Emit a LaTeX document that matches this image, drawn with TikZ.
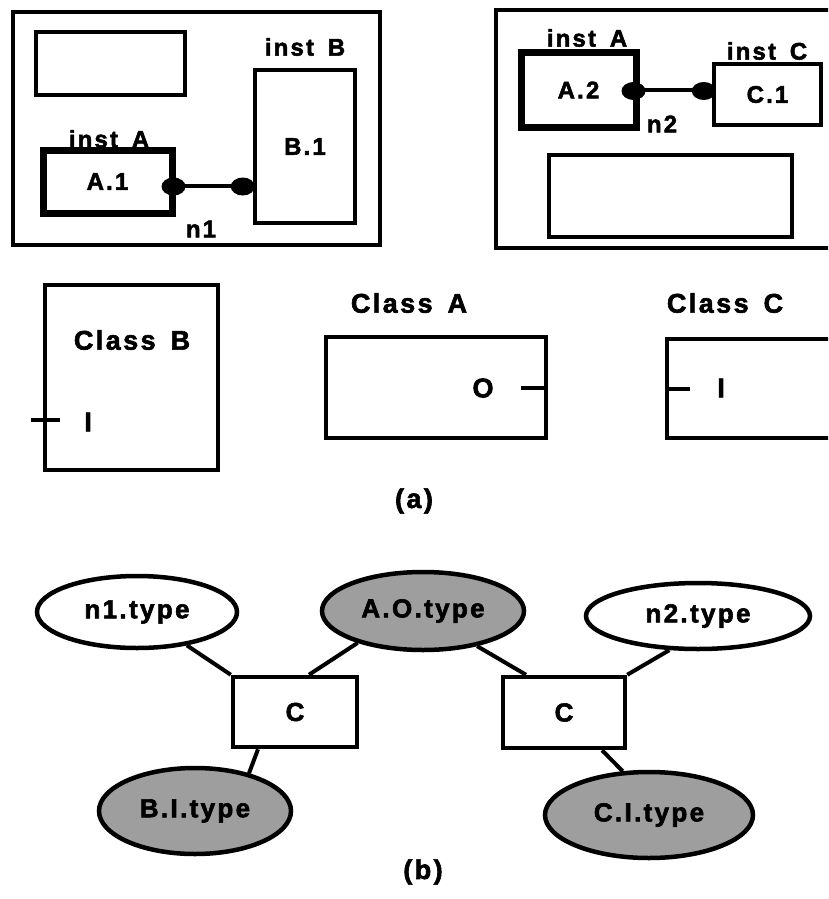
\documentclass[tikz,border=0pt]{standalone}
\usepackage{fontspec}
\setmainfont{Liberation Sans}[LetterSpace=9, BoldFeatures={FakeBold=2.2}]
\usetikzlibrary{shapes.geometric}
\begin{document}
\begin{tikzpicture}[x=1pt,y=-1pt,
  box/.style={draw, rectangle, line width=4.5pt, inner sep=0pt},
  thickbox/.style={box, line width=7pt},
  clsbox/.style={box, line width=4pt},
  lbl/.style={font=\bfseries\fontsize{24}{26}\selectfont, inner sep=0pt},
  clbl/.style={font=\bfseries\fontsize{27}{29}\selectfont, inner sep=0pt},
  oval/.style={draw, ellipse, line width=4.5pt, inner sep=0pt,
    font=\bfseries\fontsize{26}{28}\selectfont},
  shaded/.style={oval, fill=black!38},
  wire/.style={line width=4pt},
  tick/.style={line width=4pt},
  cbox/.style={box, font=\bfseries\fontsize{26}{28}\selectfont}]
\useasboundingbox (0,0) rectangle (828,899);
\clip (0,0) rectangle (828,899);

% ---------- top left frame ----------
\node[box, minimum width=367pt, minimum height=233pt] (outerL) at (196.5,128.5) {};
\node[box, minimum width=149pt, minimum height=63pt] (emptyL) at (110.5,63.5) {};
\node[thickbox, lbl, minimum width=129pt, minimum height=63pt] (a1) at (107.5,181.5) {A.1};
\node[box, lbl, minimum width=100pt, minimum height=153pt] (b1) at (305,146.5) {B.1};
\node[lbl] (instAL) at (109,139) {inst\hspace{5pt} A};
\node[lbl] (instB) at (305,47) {inst\hspace{5pt} B};
\node[lbl] (nA) at (201,229) {n1};
\coordinate (p1) at ([yshift=-4pt]a1.east);
\coordinate (q1) at (p1 -| b1.west);
\draw[wire] (p1) -- (q1);
\fill ([xshift=-2pt,yshift=-1pt]p1) ellipse [x radius=12pt, y radius=9pt];
\fill ([xshift=-10pt,yshift=-1pt]q1) ellipse [x radius=12pt, y radius=9pt];

% ---------- top right frame ----------
\node[box, minimum width=344pt, minimum height=238pt] (outerR) at (668,129) {};
\node[thickbox, lbl, minimum width=115pt, minimum height=74pt] (a2) at (578.5,90) {A.2};
\node[box, lbl, minimum width=107pt, minimum height=61pt] (c1) at (767.5,94.5) {C.1};
\node[box, minimum width=243pt, minimum height=82pt] (emptyR) at (670.5,196) {};
\node[lbl] (instAR) at (587,38) {inst\hspace{5pt} A};
\node[lbl] (instC) at (767,51) {inst\hspace{5pt} C};
\node[lbl] (nB) at (662,124) {n2};
\coordinate (p2) at (a2.east);
\coordinate (q2) at (p2 -| c1.west);
\draw[wire] (p2) -- (q2);
\fill ([xshift=-6pt,yshift=-1pt]p2) ellipse [x radius=12pt, y radius=9pt];
\fill ([xshift=-8pt,yshift=-1pt]q2) ellipse [x radius=12pt, y radius=9pt];

% ---------- classes ----------
\node[clsbox, minimum width=173pt, minimum height=185pt] (clsB) at (131.5,377.5) {};
\node[clbl] (clsBlbl) at (132,340) {Class\hspace{5pt} B};
\node[clbl] (portBI) at (88,422) {I};
\draw[tick] ([xshift=-12pt,yshift=-42.5pt]clsB.west) -- +(29,0);

\node[clsbox, minimum width=220pt, minimum height=101pt] (clsA) at (436,387.5) {};
\node[clbl] (clsAlbl) at (409,303) {Class\hspace{5pt} A};
\node[clbl] (portAO) at (483,388) {O};
\draw[tick] (clsA.east) -- +(-27,0);

\node[clsbox, minimum width=183pt, minimum height=99pt] (clsC) at (758.5,388.5) {};
\node[clbl] (clsClbl) at (725,303) {Class\hspace{5pt} C};
\node[clbl] (portCI) at (721,388) {I};
\draw[tick] (clsC.west) -- +(25,0);

\node[clbl] (capa) at (414,501) {(a)};

% ---------- constraint graph ----------
\node[oval, minimum width=200pt, minimum height=72pt] (n1t) at (137,612) {n1.type};
\node[shaded, minimum width=202pt, minimum height=78pt] (aot) at (423,611) {A.O.type};
\node[oval, minimum width=224pt, minimum height=66pt] (n2t) at (698,616) {n2.type};
\node[shaded, minimum width=192pt, minimum height=86pt] (bit) at (195,811) {B.I.type};
\node[shaded, minimum width=208pt, minimum height=86pt] (cit) at (649,815) {C.I.type};
\node[cbox, minimum width=124pt, minimum height=70pt] (cl) at (295,712) {C};
\node[cbox, minimum width=122pt, minimum height=71pt] (cr) at (564,712.5) {C};

\draw[wire] (n1t) -- (cl.north west);
\draw[wire] (aot.206) -- ([xshift=14pt]cl.north);
\draw[wire] (aot.327) -- ([xshift=-38pt]cr.north);
\draw[wire] (n2t.230) -- (cr.north east);
\draw[wire] ([xshift=-37pt]cl.south) -- (bit.35);
\draw[wire] ([xshift=38pt]cr.south) -- (cit.121);

\node[clbl] (capb) at (423,872) {(b)};
\end{tikzpicture}
\end{document}
